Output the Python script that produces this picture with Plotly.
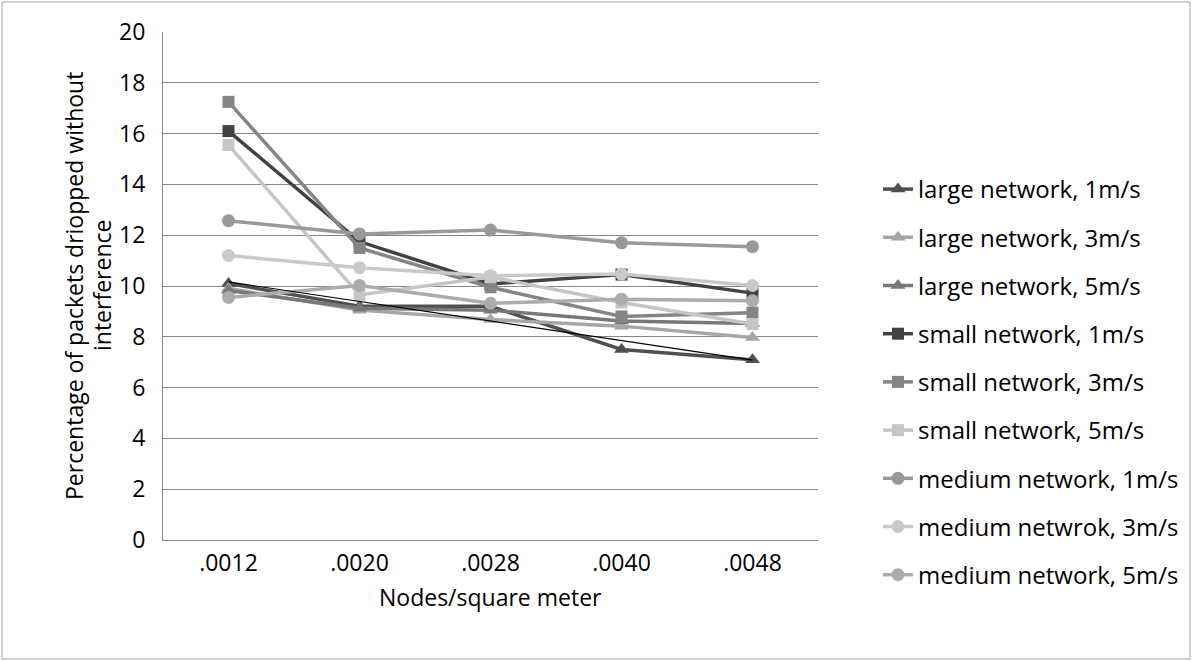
import numpy as np
import plotly.graph_objects as go

categories = [".0012", ".0020", ".0028", ".0040", ".0048"]

large_1 = [10.1, 9.2, 9.2, 7.5, 7.1]
large_3 = [9.9, 9.05, 8.68, 8.42, 7.97]
large_5 = [9.82, 9.12, 9.05, 8.62, 8.52]
small_1 = [16.1, 11.75, 10.08, 10.45, 9.72]
small_3 = [17.25, 11.5, 9.95, 8.8, 8.95]
small_5 = [15.55, 9.65, 10.35, 9.35, 8.5]
medium_1 = [12.57, 12.05, 12.2, 11.7, 11.55]
medium_3 = [11.2, 10.72, 10.4, 10.47, 10.02]
medium_5 = [9.55, 10.02, 9.32, 9.48, 9.42]

series_names = [
    "large network, 1m/s", "large network, 3m/s", "large network, 5m/s",
    "small network, 1m/s", "small network, 3m/s", "small network, 5m/s",
    "medium network, 1m/s", "medium netwrok, 3m/s", "medium network, 5m/s",
]
series_values = [large_1, large_3, large_5, small_1, small_3, small_5,
                 medium_1, medium_3, medium_5]
colors = ["#505050", "#a6a6a6", "#787878",
          "#424242", "#858585", "#c6c6c6",
          "#999999", "#c9c9c9", "#acacac"]
symbols = ["triangle-up"] * 3 + ["square"] * 3 + ["circle"] * 3
sizes = [13] * 3 + [12] * 3 + [13] * 3

FONT = "Open Sans"
FS = 23

fig = go.Figure()
for i, (name, vals, col, sym, sz) in enumerate(zip(series_names, series_values, colors, symbols, sizes)):
    fig.add_trace(go.Scatter(
        x=categories, y=vals, name=name, mode="lines+markers",
        line=dict(color=col, width=3.5),
        marker=dict(symbol=sym, size=sz, color=col),
        legendgroup=f"g{i}",
    ))

# linear trendline of large network, 1m/s
idx = np.arange(len(categories))
slope, intercept = np.polyfit(idx, large_1, 1)
trend = slope * idx + intercept
fig.add_trace(go.Scatter(
    x=categories, y=trend, mode="lines", showlegend=False,
    line=dict(color="#000000", width=1.2), hoverinfo="skip",
))

L, R, T, B = 163, 818, 32, 540
W, H = 1193, 661
pw, ph = R - L, B - T

def px_x(p):
    return (p - L) / pw

def px_y(p):
    return (B - p) / ph

fig.update_layout(
    width=W, height=H,
    margin=dict(l=L, r=W - R, t=T, b=H - B, autoexpand=False),
    paper_bgcolor="white", plot_bgcolor="white",
    font=dict(family=FONT, size=FS, color="#000000"),
    legend=dict(
        x=px_x(878), y=px_y(167), xanchor="left", yanchor="top",
        traceorder="grouped", tracegroupgap=14,
        font=dict(family=FONT, size=24, color="#000000"),
        bgcolor="rgba(0,0,0,0)",
    ),
    xaxis=dict(
        type="category", range=[-0.5, 4.5],
        showgrid=False, showline=True, linecolor="#868686", linewidth=1,
        ticks="", tickfont=dict(size=FS),
        ticklabelstandoff=2,
    ),
    yaxis=dict(
        range=[0, 20], dtick=2, tick0=0,
        showgrid=True, gridcolor="#868686", gridwidth=1,
        showline=True, linecolor="#868686", linewidth=1,
        zeroline=False, ticks="", tickfont=dict(size=FS),
        ticklabelstandoff=12,
    ),
    annotations=[
        dict(text="Nodes/square meter", xref="paper", yref="paper",
             x=0.5, y=px_y(597), xanchor="center", yanchor="middle",
             showarrow=False, font=dict(size=FS)),
        dict(text="Percentage of packets driopped without", xref="paper", yref="paper",
             x=px_x(74), y=0.5, xanchor="center", yanchor="middle", textangle=-90,
             showarrow=False, font=dict(size=FS)),
        dict(text="interference", xref="paper", yref="paper",
             x=px_x(102), y=0.5, xanchor="center", yanchor="middle", textangle=-90,
             showarrow=False, font=dict(size=FS)),
    ],
    shapes=[dict(
        type="rect", xref="paper", yref="paper",
        x0=px_x(2), x1=px_x(1190), y0=px_y(659), y1=px_y(2),
        line=dict(color="#a6a6a6", width=1), fillcolor="rgba(0,0,0,0)",
        layer="below",
    )],
)

fig.write_html("out.html")
